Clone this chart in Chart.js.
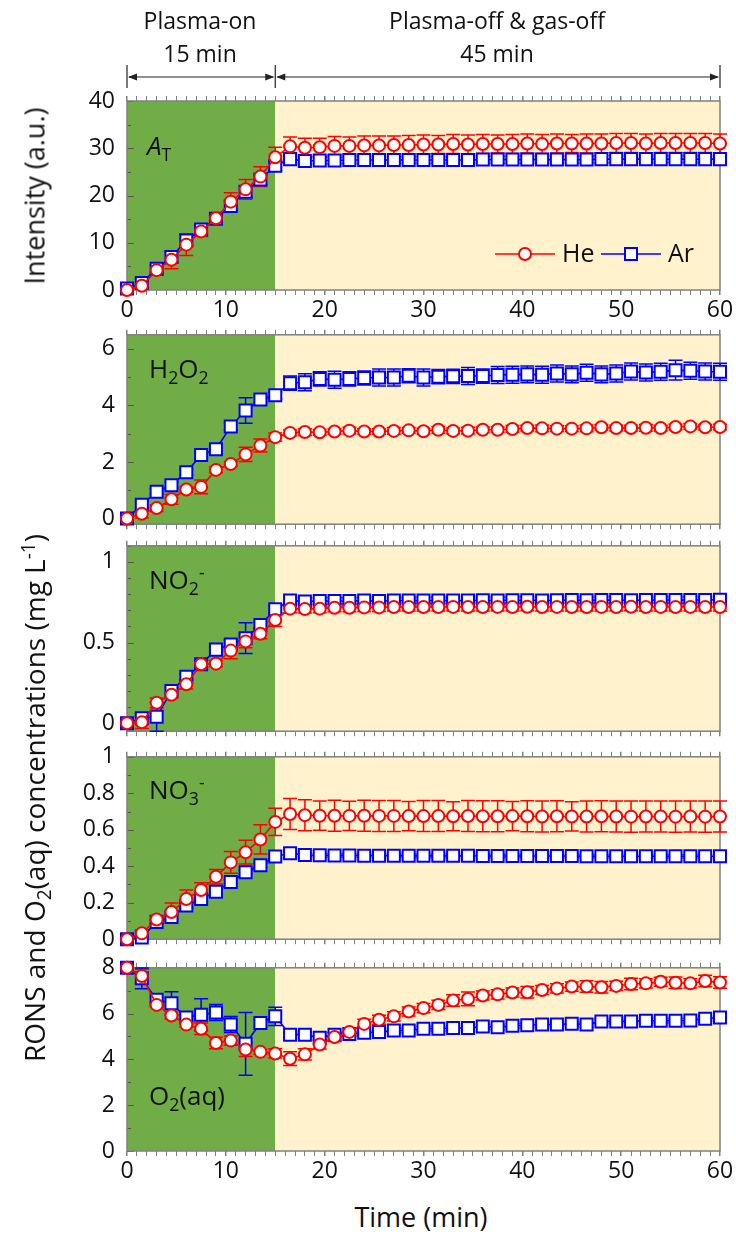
<!DOCTYPE html>
<html>
<head>
<meta charset="utf-8">
<script src="https://cdn.jsdelivr.net/npm/chart.js@4.4.1/dist/chart.umd.min.js"></script>
<style>
  body { margin: 0; background: #fff; }
  #wrap { position: relative; width: 736px; height: 1239px; font-family: 'Open Sans', sans-serif; color: #111; overflow: hidden; }
  #wrap canvas { position: absolute; left: 0; }
  .txt { position: absolute; white-space: nowrap; line-height: normal; }
  .ctr { transform: translateX(-50%); }
  .ytitle { position: absolute; white-space: nowrap; transform: translate(-50%, -50%) rotate(-90deg); font-size: 27px; }
  .sb { font-size: 68%; position: relative; top: 0.32em; }
  .sp { font-size: 68%; position: relative; top: -0.55em; }
</style>
</head>
<body>
<div id="wrap">
  <canvas id="p1" width="736" height="322" style="top:0px"></canvas>
  <canvas id="p2" width="736" height="225" style="top:317px"></canvas>
  <canvas id="p3" width="736" height="221" style="top:528px"></canvas>
  <canvas id="p4" width="736" height="218" style="top:739px"></canvas>
  <canvas id="p5" width="736" height="246" style="top:950px"></canvas>

  <div class="txt ctr" style="left:200px;top:4px;font-size:23px">Plasma-on</div>
  <div class="txt ctr" style="left:200px;top:37px;font-size:23px">15 min</div>
  <div class="txt ctr" style="left:497px;top:4px;font-size:23px">Plasma-off &amp; gas-off</div>
  <div class="txt ctr" style="left:497px;top:37px;font-size:23px">45 min</div>

  <div class="txt" style="left:147px;top:127px;font-size:26px"><i>A</i><span class="sb">T</span></div>
  <div class="txt" style="left:149px;top:350px;font-size:26px">H<span class="sb">2</span>O<span class="sb">2</span></div>
  <div class="txt" style="left:149px;top:561px;font-size:26px">NO<span class="sb">2</span><span class="sp">-</span></div>
  <div class="txt" style="left:149px;top:771px;font-size:26px">NO<span class="sb">3</span><span class="sp">-</span></div>
  <div class="txt" style="left:149px;top:1077px;font-size:26px">O<span class="sb">2</span>(aq)</div>

  <div class="ytitle" style="left:34px;top:196px">Intensity (a.u.)</div>
  <div class="ytitle" style="left:34px;top:798px;font-size:28px">RONS and O<span class="sb">2</span>(aq) concentrations (mg L<span class="sp">-1</span>)</div>
  <div class="txt ctr" style="left:421px;top:1198px;font-size:27px">Time (min)</div>
</div>

<script>
// sampling times (min)
const times = [0, 1.5, 3, 4.5, 6, 7.5, 9, 10.5, 12, 13.5, 15,
  16.5, 18, 19.5, 21, 22.5, 24, 25.5, 27, 28.5, 30,
  31.5, 33, 34.5, 36, 37.5, 39, 40.5, 42, 43.5, 45,
  46.5, 48, 49.5, 51, 52.5, 54, 55.5, 57, 58.5, 60];

// A_T intensity
const heAT = [0, 0.9, 4.2, 6.4, 9.6, 12.4, 15.2, 18.7, 21.3, 24.0, 28.1,
  30.4, 30.1, 30.2, 30.5, 30.5, 30.6, 30.6, 30.7, 30.7, 30.8,
  30.8, 30.9, 30.8, 30.9, 30.9, 30.9, 31.0, 30.9, 31.0, 31.0,
  31.0, 31.0, 31.1, 31.1, 31.0, 31.1, 31.1, 31.1, 31.1, 31.0];
const heATErr = [0.3, 0.5, 1.0, 1.9, 2.3, 1.1, 0.6, 1.9, 2.1, 2.1, 2.1,
  2.0, 2.0, 1.9, 2.0, 1.9, 2.0, 2.0, 1.9, 2.0, 2.0,
  1.9, 2.0, 2.0, 2.0, 1.9, 2.0, 2.0, 2.0, 2.0, 1.9,
  2.0, 2.0, 2.0, 2.0, 2.0, 2.0, 2.0, 2.0, 2.0, 2.0];
const arAT = [0.3, 1.5, 4.5, 7.0, 10.5, 12.8, 15.1, 17.8, 20.8, 23.4, 26.3,
  27.7, 27.3, 27.4, 27.4, 27.5, 27.5, 27.5, 27.5, 27.5, 27.5,
  27.5, 27.5, 27.5, 27.6, 27.6, 27.6, 27.6, 27.6, 27.6, 27.6,
  27.6, 27.7, 27.7, 27.7, 27.7, 27.7, 27.7, 27.7, 27.7, 27.7];
const arATErr = [0.6, 0.8, 0.8, 1.0, 1.2, 0.9, 0.6, 1.0, 1.1, 1.0, 1.0,
  0.7, 0.7, 0.7, 0.7, 0.7, 0.7, 0.7, 0.7, 0.7, 0.7,
  0.7, 0.7, 0.7, 0.7, 0.7, 0.7, 0.7, 0.7, 0.7, 0.7,
  0.7, 0.7, 0.7, 0.7, 0.7, 0.7, 0.7, 0.7, 0.7, 0.7];

// H2O2 (mg/L)
const heH2O2 = [0, 0.17, 0.37, 0.68, 1.03, 1.12, 1.72, 1.93, 2.27, 2.58, 2.88,
  3.03, 3.06, 3.05, 3.08, 3.11, 3.08, 3.08, 3.10, 3.12, 3.09,
  3.14, 3.10, 3.11, 3.14, 3.14, 3.17, 3.20, 3.19, 3.18, 3.18,
  3.19, 3.23, 3.20, 3.20, 3.21, 3.20, 3.24, 3.26, 3.23, 3.24];
const heH2O2Err = [0.03, 0.15, 0.12, 0.17, 0.1, 0.24, 0.1, 0.08, 0.25, 0.23, 0.15,
  0.1, 0.12, 0.1, 0.1, 0.12, 0.1, 0.1, 0.12, 0.1, 0.1,
  0.12, 0.1, 0.12, 0.1, 0.1, 0.12, 0.1, 0.12, 0.1, 0.1,
  0.12, 0.1, 0.1, 0.1, 0.12, 0.1, 0.1, 0.1, 0.1, 0.1];
const arH2O2 = [0, 0.49, 0.95, 1.18, 1.64, 2.25, 2.45, 3.26, 3.82, 4.21, 4.36,
  4.79, 4.82, 4.94, 4.91, 4.94, 4.97, 4.99, 4.99, 5.05, 4.99,
  5.02, 5.03, 5.04, 5.04, 5.08, 5.09, 5.10, 5.09, 5.13, 5.10,
  5.16, 5.10, 5.13, 5.20, 5.17, 5.19, 5.25, 5.23, 5.20, 5.19];
const arH2O2Err = [0.03, 0.12, 0.1, 0.1, 0.1, 0.1, 0.15, 0.12, 0.45, 0.1, 0.12,
  0.25, 0.3, 0.25, 0.3, 0.25, 0.25, 0.3, 0.3, 0.25, 0.3,
  0.25, 0.25, 0.3, 0.25, 0.3, 0.3, 0.3, 0.3, 0.3, 0.3,
  0.3, 0.3, 0.3, 0.3, 0.3, 0.3, 0.35, 0.3, 0.3, 0.3];

// NO2- (mg/L)
const heNO2 = [0, 0.006, 0.126, 0.176, 0.241, 0.365, 0.369, 0.45, 0.507, 0.554, 0.64,
  0.71, 0.708, 0.71, 0.716, 0.716, 0.718, 0.718, 0.72, 0.72, 0.72,
  0.72, 0.721, 0.72, 0.72, 0.721, 0.72, 0.722, 0.72, 0.721, 0.72,
  0.72, 0.721, 0.72, 0.722, 0.72, 0.721, 0.72, 0.721, 0.72, 0.72];
const heNO2Err = [0.01, 0.04, 0.03, 0.02, 0.03, 0.03, 0.02, 0.05, 0.04, 0.03, 0.04,
  0.025, 0.025, 0.025, 0.025, 0.025, 0.025, 0.025, 0.025, 0.025, 0.025,
  0.025, 0.025, 0.025, 0.025, 0.025, 0.025, 0.025, 0.025, 0.025, 0.025,
  0.025, 0.025, 0.025, 0.025, 0.025, 0.025, 0.025, 0.025, 0.025, 0.025];
const arNO2 = [0, 0.03, 0.04, 0.2, 0.288, 0.365, 0.456, 0.487, 0.527, 0.608, 0.706,
  0.76, 0.755, 0.757, 0.758, 0.758, 0.76, 0.758, 0.76, 0.76, 0.76,
  0.761, 0.76, 0.761, 0.762, 0.761, 0.762, 0.762, 0.761, 0.762, 0.763,
  0.762, 0.763, 0.763, 0.762, 0.763, 0.764, 0.763, 0.764, 0.764, 0.765];
const arNO2Err = [0.01, 0.03, 0.09, 0.02, 0.02, 0.02, 0.02, 0.03, 0.095, 0.02, 0.02,
  0.02, 0.02, 0.02, 0.02, 0.02, 0.02, 0.02, 0.02, 0.02, 0.02,
  0.02, 0.02, 0.02, 0.02, 0.02, 0.02, 0.02, 0.02, 0.02, 0.02,
  0.02, 0.02, 0.02, 0.02, 0.02, 0.02, 0.02, 0.02, 0.02, 0.02];

// NO3- (mg/L)
const heNO3 = [0, 0.032, 0.108, 0.149, 0.22, 0.27, 0.342, 0.421, 0.477, 0.547, 0.643,
  0.686, 0.680, 0.677, 0.677, 0.676, 0.677, 0.676, 0.676, 0.675, 0.675,
  0.675, 0.674, 0.675, 0.674, 0.674, 0.675, 0.674, 0.673, 0.674, 0.673,
  0.673, 0.674, 0.673, 0.672, 0.673, 0.673, 0.672, 0.673, 0.672, 0.673];
const heNO3Err = [0.01, 0.02, 0.02, 0.05, 0.05, 0.04, 0.04, 0.06, 0.065, 0.08, 0.075,
  0.085, 0.085, 0.08, 0.085, 0.08, 0.085, 0.085, 0.085, 0.08, 0.085,
  0.085, 0.08, 0.085, 0.085, 0.085, 0.08, 0.085, 0.085, 0.085, 0.08,
  0.085, 0.085, 0.085, 0.085, 0.085, 0.085, 0.085, 0.085, 0.085, 0.085];
const arNO3 = [0, 0.01, 0.095, 0.122, 0.185, 0.22, 0.26, 0.314, 0.367, 0.405, 0.453,
  0.471, 0.462, 0.460, 0.459, 0.459, 0.458, 0.458, 0.458, 0.457, 0.457,
  0.457, 0.457, 0.457, 0.456, 0.456, 0.456, 0.456, 0.456, 0.456, 0.456,
  0.455, 0.455, 0.455, 0.455, 0.455, 0.455, 0.455, 0.455, 0.455, 0.455];
const arNO3Err = [0.005, 0.01, 0.01, 0.01, 0.01, 0.01, 0.01, 0.01, 0.01, 0.01, 0.01,
  0.01, 0.01, 0.01, 0.01, 0.01, 0.01, 0.01, 0.01, 0.01, 0.01,
  0.01, 0.01, 0.01, 0.01, 0.01, 0.01, 0.01, 0.01, 0.01, 0.01,
  0.01, 0.01, 0.01, 0.01, 0.01, 0.01, 0.01, 0.01, 0.01, 0.01];

// O2(aq) (mg/L)
const heO2 = [8.0, 7.64, 6.38, 5.92, 5.52, 5.34, 4.72, 4.82, 4.43, 4.33, 4.26,
  4.03, 4.22, 4.65, 4.98, 5.20, 5.55, 5.73, 5.88, 6.09, 6.24,
  6.38, 6.57, 6.64, 6.79, 6.84, 6.92, 6.93, 7.03, 7.10, 7.18,
  7.18, 7.15, 7.21, 7.29, 7.32, 7.39, 7.35, 7.32, 7.42, 7.36];
const heO2Err = [0.05, 0.3, 0.1, 0.15, 0.1, 0.25, 0.25, 0.2, 0.3, 0.1, 0.2,
  0.3, 0.25, 0.2, 0.2, 0.15, 0.2, 0.2, 0.2, 0.2, 0.2,
  0.2, 0.25, 0.3, 0.2, 0.2, 0.2, 0.25, 0.2, 0.2, 0.2,
  0.25, 0.25, 0.2, 0.25, 0.2, 0.2, 0.25, 0.2, 0.25, 0.25];
const arO2 = [8.0, 7.54, 6.6, 6.45, 5.83, 5.95, 6.05, 5.52, 4.68, 5.59, 5.88,
  5.08, 5.08, 4.94, 5.08, 5.11, 5.16, 5.20, 5.26, 5.26, 5.34,
  5.34, 5.37, 5.37, 5.44, 5.40, 5.47, 5.49, 5.52, 5.52, 5.56,
  5.52, 5.66, 5.66, 5.66, 5.69, 5.69, 5.69, 5.70, 5.78, 5.83];
const arO2Err = [0.05, 0.45, 0.1, 0.5, 0.1, 0.7, 0.35, 0.35, 1.37, 0.15, 0.4,
  0.1, 0.1, 0.1, 0.1, 0.1, 0.1, 0.1, 0.1, 0.1, 0.1,
  0.1, 0.1, 0.1, 0.1, 0.1, 0.1, 0.1, 0.1, 0.1, 0.1,
  0.1, 0.1, 0.1, 0.1, 0.1, 0.1, 0.1, 0.1, 0.1, 0.1];

const xTickLabels = [0, 10, 20, 30, 40, 50, 60];
const seriesNames = ['He', 'Ar'];

Chart.defaults.font.family = "'Open Sans', sans-serif";
Chart.defaults.color = '#111';

const RED = '#ff0000', BLUE = '#0000ff';
const GREEN_BG = '#70ad47', BEIGE_BG = '#fff2cc', AXIS = '#808080';

function isMult(v, step) {
  const r = v / step;
  return Math.abs(r - Math.round(r)) < 1e-6;
}

// shaded phases + frame + inward y ticks
const frame = {
  id: 'frame',
  beforeDraw(chart) {
    const { ctx, chartArea: a, scales: { x } } = chart;
    const x15 = x.getPixelForValue(15);
    ctx.save();
    ctx.fillStyle = GREEN_BG;
    ctx.fillRect(a.left, a.top, x15 - a.left, a.bottom - a.top);
    ctx.fillStyle = BEIGE_BG;
    ctx.fillRect(x15, a.top, a.right - x15, a.bottom - a.top);
    ctx.restore();
  },
  beforeDatasetsDraw(chart) {
    const { ctx, chartArea: a, scales: { y } } = chart;
    const opts = chart.options.plugins.frame;
    ctx.save();
    ctx.strokeStyle = '#555';
    ctx.lineWidth = 1;
    y.ticks.forEach(t => {
      if (t.value < y.min - 1e-9 || t.value > y.max + 1e-9) return;
      const len = isMult(t.value, opts.major) ? 7 : 4;
      const py = Math.round(y.getPixelForValue(t.value)) + 0.5;
      ctx.beginPath();
      ctx.moveTo(a.left, py);
      ctx.lineTo(a.left + len, py);
      ctx.stroke();
    });
    ctx.strokeStyle = AXIS;
    ctx.lineWidth = 1.5;
    ctx.strokeRect(a.left, a.top, a.right - a.left, a.bottom - a.top);
    ctx.restore();
  }
};

const errorBars = {
  id: 'errorBars',
  beforeDatasetsDraw(chart) {
    const { ctx, scales: { y } } = chart;
    chart.data.datasets.forEach((ds, i) => {
      const meta = chart.getDatasetMeta(i);
      ctx.save();
      ctx.strokeStyle = ds.borderColor;
      ctx.lineWidth = 1.5;
      meta.data.forEach((pt, j) => {
        const v = ds.data[j].y, e = ds.errors[j];
        const y1 = y.getPixelForValue(v + e), y2 = y.getPixelForValue(v - e);
        ctx.beginPath();
        ctx.moveTo(pt.x, y1); ctx.lineTo(pt.x, y2);
        ctx.moveTo(pt.x - 7, y1); ctx.lineTo(pt.x + 7, y1);
        ctx.moveTo(pt.x - 7, y2); ctx.lineTo(pt.x + 7, y2);
        ctx.stroke();
      });
      ctx.restore();
    });
  }
};

// phase arrows above the top panel and the He / Ar key
const topExtras = {
  id: 'topExtras',
  afterDatasetsDraw(chart) {
    const { ctx, chartArea: a, scales: { x } } = chart;
    const xs = [0, 15, 60].map(v => x.getPixelForValue(v));
    const ay = a.top - 24;
    ctx.save();
    ctx.strokeStyle = '#222';
    ctx.fillStyle = '#222';
    ctx.lineWidth = 1.2;
    xs.forEach(px => {
      ctx.beginPath(); ctx.moveTo(px, ay - 12); ctx.lineTo(px, ay + 11); ctx.stroke();
    });
    const arrow = (x1, x2) => {
      ctx.beginPath(); ctx.moveTo(x1 + 2, ay); ctx.lineTo(x2 - 2, ay); ctx.stroke();
      [[x1 + 1, 1], [x2 - 1, -1]].forEach(([tip, dir]) => {
        ctx.beginPath();
        ctx.moveTo(tip, ay);
        ctx.lineTo(tip + dir * 9, ay - 3.5);
        ctx.lineTo(tip + dir * 9, ay + 3.5);
        ctx.closePath();
        ctx.fill();
      });
    };
    arrow(xs[0], xs[1]);
    arrow(xs[1], xs[2]);

    // key
    const ly = a.bottom - 36;
    const starts = [a.right - 225, a.right - 119];
    chart.data.datasets.forEach((ds, i) => {
      const x0 = starts[i];
      ctx.strokeStyle = ds.borderColor;
      ctx.lineWidth = 1.5;
      ctx.beginPath(); ctx.moveTo(x0, ly); ctx.lineTo(x0 + 60, ly); ctx.stroke();
      ctx.fillStyle = '#fff';
      ctx.lineWidth = 2;
      ctx.beginPath();
      if (ds.pointStyle === 'rect') {
        ctx.rect(x0 + 24, ly - 6, 12, 12);
      } else {
        ctx.arc(x0 + 30, ly, 6, 0, Math.PI * 2);
      }
      ctx.fill(); ctx.stroke();
      ctx.fillStyle = '#111';
      ctx.font = "25px 'Open Sans', sans-serif";
      ctx.textBaseline = 'middle';
      ctx.fillText(ds.label, x0 + 67, ly + 1);
    });
    ctx.restore();
  }
};

function series(label, vals, errs, color, style) {
  return {
    label,
    data: times.map((t, k) => ({ x: t, y: vals[k] })),
    errors: errs,
    borderColor: color,
    backgroundColor: '#fff',
    borderWidth: 1.6,
    pointStyle: style,
    pointRadius: style === 'rect' ? 8.5 : 6,
    pointBorderWidth: 2,
    pointBackgroundColor: '#fff',
    pointBorderColor: color,
    tension: 0,
    clip: false
  };
}

function xAxis(position, boxH, showLabels) {
  return {
    type: 'linear', min: 0, max: 60, position,
    afterFit: s => { s.height = boxH; },
    grid: {
      display: true, drawOnChartArea: false, drawTicks: true, tickLength: 5, color: AXIS,
      lineWidth: ctx => (ctx.tick && isMult(ctx.tick.value, 10) ? 1.5 : 1)
    },
    border: { display: false },
    ticks: {
      display: showLabels, stepSize: 1, autoSkip: false, maxRotation: 0, includeBounds: false,
      padding: 2, font: { size: 23 }, color: '#111',
      callback: v => (xTickLabels.includes(v) ? String(v) : '')
    }
  };
}

const panels = [
  { id: 'p1', he: heAT, heErr: heATErr, ar: arAT, arErr: arATErr, min: 0, max: 40, major: 10, minor: 5, padTop: 85, bottom: 32, labels: true, extra: true },
  { id: 'p2', he: heH2O2, heErr: heH2O2Err, ar: arH2O2, arErr: arH2O2Err, min: -0.2, max: 6.5, major: 2, minor: 1, padTop: 0, bottom: 16 },
  { id: 'p3', he: heNO2, heErr: heNO2Err, ar: arNO2, arErr: arNO2Err, min: -0.05, max: 1.1, major: 0.5, minor: 0.1, padTop: 0, bottom: 16 },
  { id: 'p4', he: heNO3, heErr: heNO3Err, ar: arNO3, arErr: arNO3Err, min: 0, max: 1, major: 0.2, minor: 0.1, padTop: 0, bottom: 16 },
  { id: 'p5', he: heO2, heErr: heO2Err, ar: arO2, arErr: arO2Err, min: 0, max: 8, major: 2, minor: 1, padTop: 0, bottom: 45, labels: true }
];

panels.forEach(p => {
  const plugins = [frame, errorBars];
  if (p.extra) plugins.push(topExtras);
  new Chart(document.getElementById(p.id), {
    type: 'line',
    data: {
      datasets: [
        series(seriesNames[0], p.he, p.heErr, RED, 'circle'),
        series(seriesNames[1], p.ar, p.arErr, BLUE, 'rect')
      ]
    },
    options: {
      responsive: false,
      animation: false,
      events: [],
      devicePixelRatio: 1,
      layout: { padding: { left: 0, right: 16, top: p.padTop, bottom: 0 } },
      plugins: {
        legend: { display: false },
        tooltip: { enabled: false },
        frame: { major: p.major }
      },
      scales: {
        x: xAxis('bottom', p.bottom, !!p.labels),
        xTop: xAxis('top', 16, false),
        y: {
          type: 'linear', min: p.min, max: p.max,
          afterFit: s => { s.width = 127; },
          grid: { display: false },
          border: { display: false },
          ticks: {
            stepSize: p.minor, autoSkip: false, includeBounds: false, padding: 4,
            font: { size: 23 }, color: '#111',
            callback: v => (isMult(v, p.major) ? String(Math.round(v * 100) / 100) : '')
          }
        }
      }
    },
    plugins
  });
});
</script>
</body>
</html>
